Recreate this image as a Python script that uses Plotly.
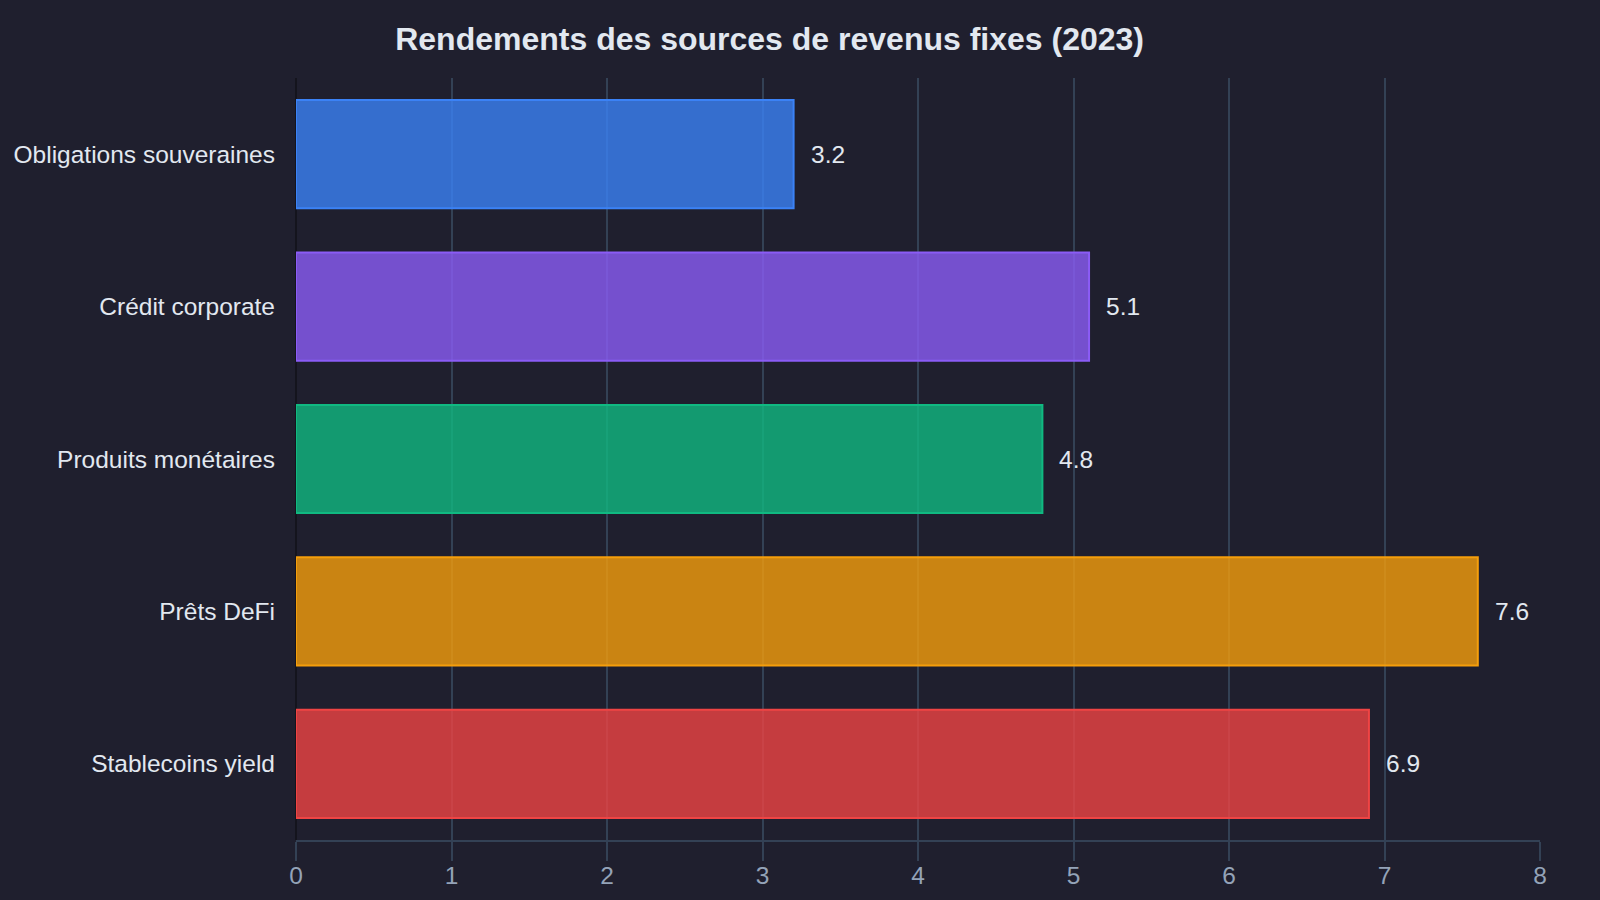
import plotly.graph_objects as go

categories = ["Obligations souveraines", "Crédit corporate", "Produits monétaires", "Prêts DeFi", "Stablecoins yield"]
values = [3.2, 5.1, 4.8, 7.6, 6.9]
line_colors = ["#3b82f6", "#8b5cf6", "#10b981", "#f59e0b", "#ef4444"]
fill_colors = ["rgba(59,130,246,0.8)", "rgba(139,92,246,0.8)", "rgba(16,185,129,0.8)",
               "rgba(245,158,11,0.8)", "rgba(239,68,68,0.8)"]
x_ticks = [0, 1, 2, 3, 4, 5, 6, 7, 8]

BG = "#1f1f2e"
GRID = "#334155"
FONT = "Liberation Sans, Arial, sans-serif"

fig = go.Figure()
fig.add_trace(go.Bar(
    x=values, y=categories, orientation="h",
    marker=dict(color=fill_colors, line=dict(color=line_colors, width=2)),
    hoverinfo="skip",
))

annotations = [
    dict(x=v, y=c, xref="x", yref="y", text=f"{v}", showarrow=False,
         xanchor="left", yanchor="middle", xshift=15,
         font=dict(family=FONT, size=24.5, color="#e2e8f0"))
    for c, v in zip(categories, values)
]

fig.update_layout(
    width=1600, height=900,
    paper_bgcolor=BG, plot_bgcolor=BG,
    margin=dict(l=296, r=60, t=78, b=60),
    bargap=0.29,
    showlegend=False,
    title=dict(text="<b>Rendements des sources de revenus fixes (2023)</b>",
               x=0.481, xref="container", xanchor="center",
               y=1 - 39 / 900, yref="container", yanchor="middle",
               font=dict(family=FONT, size=32, color="#e2e8f0")),
    font=dict(family=FONT, color="#e2e8f0"),
    annotations=annotations,
)
fig.update_xaxes(
    range=[0, 8], tickvals=x_ticks, showgrid=True, gridcolor=GRID, gridwidth=1.5,
    zeroline=True, zerolinecolor="#14141d", zerolinewidth=2,
    showline=True, linecolor=GRID, linewidth=2,
    ticks="outside", ticklen=19, tickcolor=GRID, tickwidth=1.5,
    ticklabelstandoff=-6,
    tickfont=dict(family=FONT, size=24.5, color="#94a3b8"),
    automargin=False,
)
fig.update_yaxes(
    autorange="reversed", showgrid=False, zeroline=False, showline=False,
    ticks="", ticklabelstandoff=20, automargin=False,
    tickfont=dict(family=FONT, size=24.5, color="#e2e8f0"),
)

fig.write_html("out.html")
